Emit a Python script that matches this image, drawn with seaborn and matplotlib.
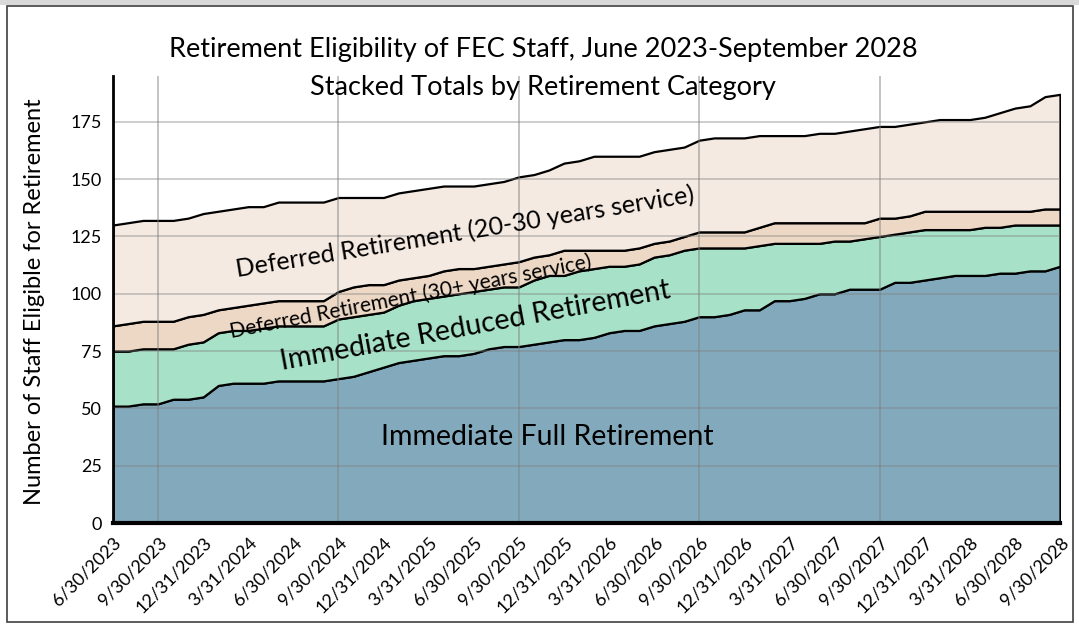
import numpy as np
import pandas as pd
import matplotlib
matplotlib.use("Agg")
import matplotlib.pyplot as plt
import seaborn as sns
from matplotlib.patches import Rectangle

# month-end dates, June 2023 .. September 2028
months = pd.date_range("2023-06-30", "2028-09-30", freq="ME")

categories = [
    "Immediate Full Retirement",
    "Immediate Reduced Retirement",
    "Deferred Retirement (30+ years service)",
    "Deferred Retirement (20-30 years service)",
]

immediate_full = [51, 51, 52, 52, 54, 54, 55, 60, 61, 61, 61, 62, 62, 62, 62, 63,
                  64, 66, 68, 70, 71, 72, 73, 73, 74, 76, 77, 77, 78, 79, 80, 80,
                  81, 83, 84, 84, 86, 87, 88, 90, 90, 91, 93, 93, 97, 97, 98, 100,
                  100, 102, 102, 102, 105, 105, 106, 107, 108, 108, 108, 109, 109, 110, 110, 112]

immediate_reduced = [24, 24, 24, 24, 22, 24, 24, 23, 23, 23, 24, 24, 24, 24, 24, 26,
                     26, 25, 24, 25, 26, 26, 26, 27, 27, 26, 26, 26, 28, 29, 28, 30,
                     30, 29, 28, 29, 30, 30, 31, 30, 30, 29, 27, 28, 25, 25, 24, 22,
                     23, 21, 22, 23, 21, 22, 22, 21, 20, 20, 21, 20, 21, 20, 20, 18]

deferred_30 = [11, 12, 12, 12, 12, 12, 12, 10, 10, 11, 11, 11, 11, 11, 11, 12,
               13, 13, 12, 11, 10, 10, 11, 11, 10, 10, 10, 11, 10, 9, 11, 9,
               8, 7, 7, 7, 6, 6, 6, 7, 7, 7, 7, 8, 9, 9, 9, 9,
               8, 8, 7, 8, 7, 7, 8, 8, 8, 8, 7, 7, 6, 6, 7, 7]

deferred_20 = [44, 44, 44, 44, 44, 43, 44, 43, 43, 43, 42, 43, 43, 43, 43, 41,
               39, 38, 38, 38, 38, 38, 37, 36, 36, 36, 36, 37, 36, 37, 38, 39,
               41, 41, 41, 40, 40, 40, 39, 40, 41, 41, 41, 40, 38, 38, 38, 39,
               39, 40, 41, 40, 40, 40, 39, 40, 40, 40, 41, 43, 45, 46, 49, 50]

colors = ["#82AABC", "#A7E2C8", "#EDD8C5", "#F5EAE1"]

sns.set_theme(style="white")
plt.rcParams["font.family"] = ["Lato", "DejaVu Sans"]
plt.rcParams["text.color"] = "black"
plt.rcParams["xtick.color"] = "black"
plt.rcParams["ytick.color"] = "black"

W, H = 1079, 629
fig = plt.figure(figsize=(W / 100, H / 100), dpi=100)
fig.patch.set_facecolor("white")

# chart frame
fig.patches.append(Rectangle((0, 1 - 5 / H), 1, 5 / H, transform=fig.transFigure,
                             facecolor="#D9D9D9", edgecolor="none"))
fig.patches.append(Rectangle((7 / W, 1 - 622 / H), 1066 / W, 616 / H, transform=fig.transFigure,
                             facecolor="none", edgecolor="#404040", linewidth=1.2))

ax = fig.add_axes([113 / W, 1 - 523 / H, (1060 - 113) / W, (523 - 76) / H])
x = np.arange(len(months))

ax.stackplot(x, immediate_full, immediate_reduced, deferred_30, deferred_20,
             colors=colors, edgecolor="black", linewidth=1.6, zorder=2)

ax.set_xlim(0, len(months) - 1)
ax.set_ylim(0, 195)
ax.set_yticks(range(0, 176, 25))
ax.tick_params(axis="y", labelsize=13, length=0, pad=8)

# gridlines drawn over the areas, like the original
for yv in range(25, 176, 25):
    ax.axhline(yv, color="#7F7F7F", alpha=0.45, lw=1.2, zorder=3)
for i, d in enumerate(months):
    if d.month == 9 and i < len(months) - 1:
        ax.axvline(i, color="#7F7F7F", alpha=0.55, lw=1.2, zorder=3)

qpos = x[::3]
qlabels = [f"{d.month}/{d.day}/{d.year}" for d in months[::3]]
ax.set_xticks(qpos)
ax.set_xticklabels(qlabels, rotation=45, ha="right", rotation_mode="anchor", fontsize=13)
ax.tick_params(axis="x", length=0, pad=8)

for s in ["top", "right"]:
    ax.spines[s].set_visible(False)
ax.spines["left"].set_color("black")
ax.spines["left"].set_linewidth(2)
ax.spines["bottom"].set_color("black")
ax.spines["bottom"].set_linewidth(3)
ax.spines["left"].set_zorder(5)
ax.spines["bottom"].set_zorder(5)

# band labels
ax.text(28.9, 37.5, categories[0], fontsize=20.5, ha="center", va="center", zorder=6)
ax.text(24.1, 86, categories[1], fontsize=20.5, ha="center", va="center", rotation=10.5, zorder=6)
ax.text(19.8, 98.6, categories[2], fontsize=15, ha="center", va="center", rotation=11, zorder=6)
ax.text(23.4, 127, categories[3], fontsize=18, ha="center", va="center", rotation=9.3, zorder=6)

fig.text(543 / W, 1 - 50 / H, "Retirement Eligibility of FEC Staff, June 2023-September 2028",
         fontsize=19.5, ha="center", va="center")
fig.text(543 / W, 1 - 87 / H, "Stacked Totals by Retirement Category",
         fontsize=19.5, ha="center", va="center")
fig.text(35 / W, 1 - 302 / H, "Number of Staff Eligible for Retirement",
         fontsize=17, rotation=90, ha="center", va="center")

fig.savefig("out.png", dpi=100)
